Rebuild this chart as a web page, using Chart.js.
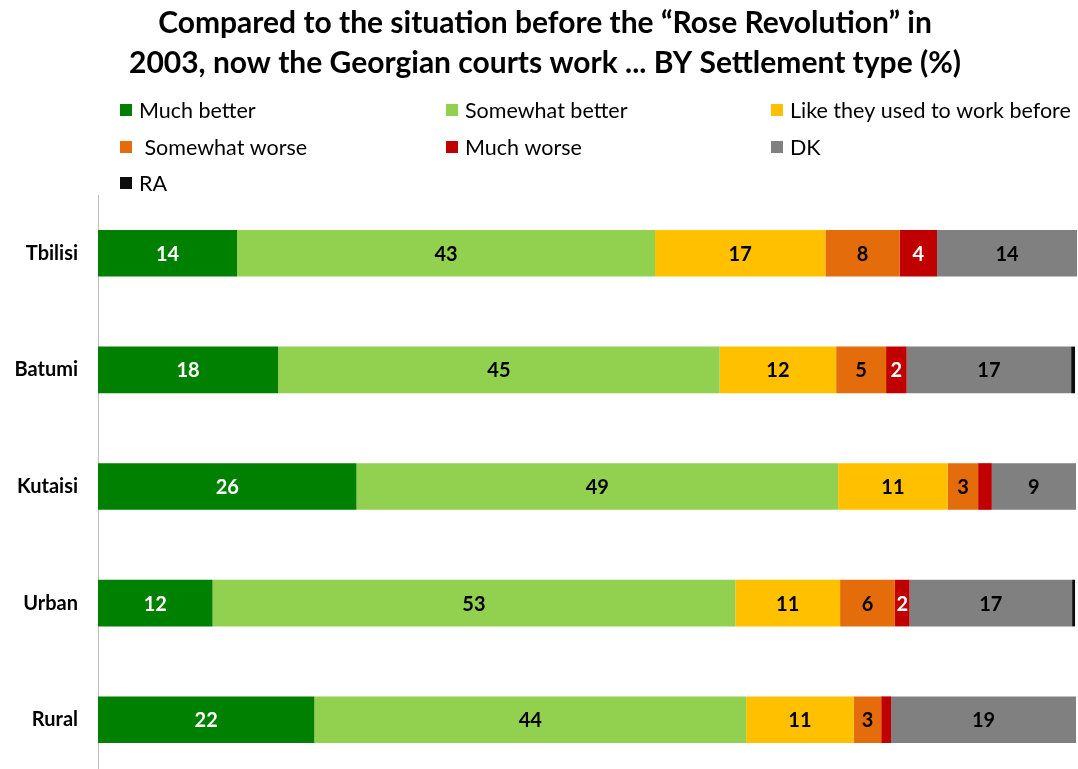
<!DOCTYPE html>
<html><head><meta charset="utf-8">
<script src="https://cdn.jsdelivr.net/npm/chart.js@4"></script>
<style>html,body{margin:0;padding:0;background:#fff;overflow:hidden}#wrap{width:1078px;height:810px}</style>
</head><body><div id="wrap"><canvas id="c" width="1078" height="810"></canvas></div>
<script>
const categories = ["Tbilisi", "Batumi", "Kutaisi", "Urban", "Rural"];
const muchBetter     = [14.2, 18.4, 26.4, 11.7, 22.1];
const somewhatBetter = [42.7, 45.1, 49.2, 53.4, 44.1];
const likeBefore     = [17.4, 11.9, 11.2, 10.7, 11.0];
const somewhatWorse  = [7.6, 5.1, 3.1, 5.6, 2.8];
const muchWorse      = [3.8, 2.1, 1.4, 1.5, 1.0];
const dk             = [14.3, 16.8, 8.6, 16.6, 18.9];
const ra             = [0, 0.4, 0, 0.3, 0];
const seriesNames = ["Much better", "Somewhat better", "Like they used to work before", " Somewhat worse", "Much worse", "DK", "RA"];
const titleLines = ["Compared to the situation before the \u201cRose Revolution\u201d in", "2003, now the Georgian courts work ... BY Settlement type (%)"];

const colors = ["#008000", "#92D050", "#FFC000", "#E46C0A", "#C00000", "#808080", "#0D0D0D"];
const labelColors = ["#fff", "#000", "#000", "#000", "#fff", "#000", "#000"];
const seriesData = [muchBetter, somewhatBetter, likeBefore, somewhatWorse, muchWorse, dk, ra];
const FONT = "Lato, 'Open Sans', sans-serif";

const decor = {
  id: 'decor',
  afterDraw(chart) {
    const ctx = chart.ctx;
    ctx.save();
    // title
    ctx.fillStyle = "#000";
    ctx.font = "bold 30px " + FONT;
    ctx.textAlign = "center"; ctx.textBaseline = "middle";
    ctx.fillText(titleLines[0], 545, 23);
    ctx.fillText(titleLines[1], 545, 63);
    // legend
    const cols = [120, 446, 771];
    const rows = [110, 147, 183];
    ctx.font = "21.5px " + FONT;
    ctx.textAlign = "left";
    seriesNames.forEach((n, i) => {
      const x = cols[i % 3], y = rows[Math.floor(i / 3)];
      ctx.fillStyle = colors[i];
      ctx.fillRect(x, y - 6, 12, 12);
      ctx.fillStyle = "#000";
      ctx.fillText(n, x + 19, y + 1);
    });
    // data labels
    ctx.font = "bold 20px " + FONT;
    ctx.textAlign = "center";
    chart.data.datasets.forEach((ds, di) => {
      const meta = chart.getDatasetMeta(di);
      meta.data.forEach((bar, j) => {
        const v = ds.data[j];
        if (v < 1.45) return;
        const p = bar.getProps(['x', 'base', 'y'], true);
        ctx.fillStyle = labelColors[di];
        ctx.fillText(String(Math.round(v)), (p.x + p.base) / 2, p.y + 1);
      });
    });
    ctx.restore();
  }
};

new Chart(document.getElementById('c'), {
  type: 'bar',
  data: {
    labels: categories,
    datasets: seriesData.map((d, i) => ({
      label: seriesNames[i], data: d, backgroundColor: colors[i],
      borderWidth: 0, barPercentage: 0.4, categoryPercentage: 1
    }))
  },
  options: {
    indexAxis: 'y', responsive: false, animation: false,
    layout: { padding: { top: 195, right: 1, bottom: 4, left: 0 } },
    plugins: { legend: { display: false }, tooltip: { enabled: false }, title: { display: false } },
    scales: {
      x: { stacked: true, min: 0, max: 100, display: false },
      y: {
        stacked: true,
        grid: { display: false, drawTicks: false },
        border: { display: true, color: "#BEBEBE", width: 1 },
        ticks: { color: "#000", font: { family: FONT, size: 20, weight: 'bold' }, padding: 20 },
        afterFit(s) { s.width = 98; }
      }
    }
  },
  plugins: [decor]
});
</script></body></html>
